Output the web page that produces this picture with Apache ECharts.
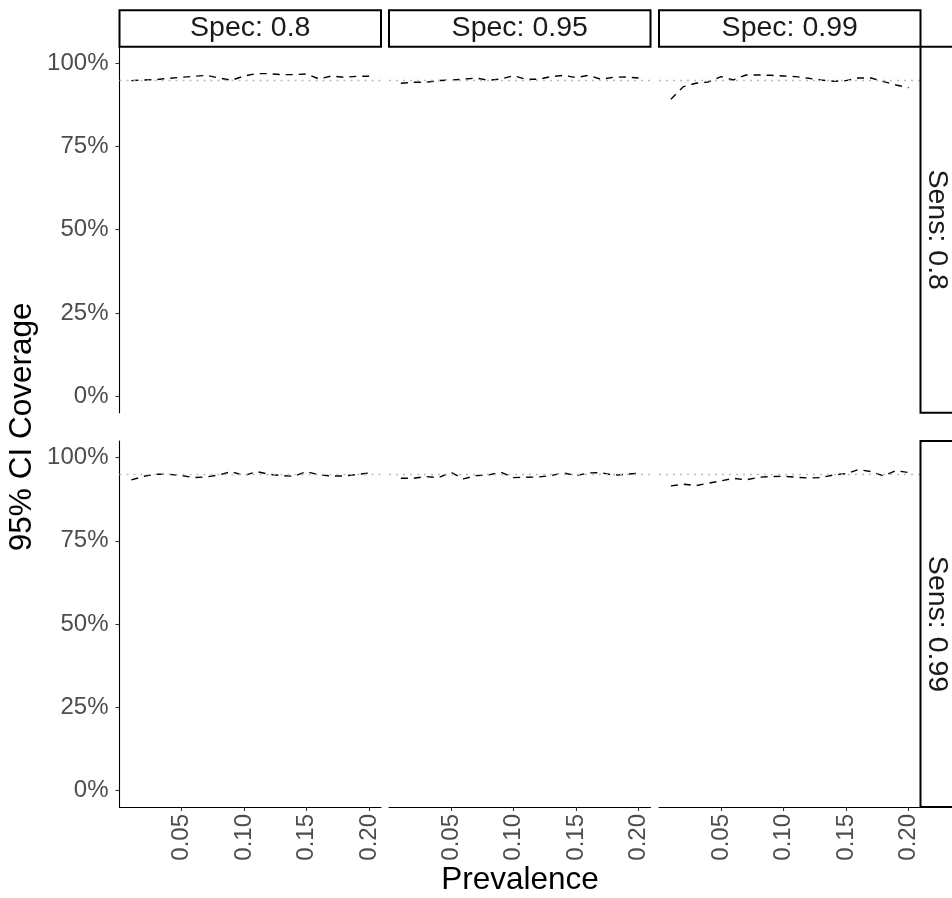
<!DOCTYPE html>
<html>
<head>
<meta charset="utf-8">
<script src="https://cdn.jsdelivr.net/npm/echarts@6/dist/echarts.min.js"></script>
<style>
  html, body { margin: 0; padding: 0; background: #ffffff; }
  #chart { width: 952px; height: 898px; }
</style>
</head>
<body>
<div id="chart"></div>
<script>
// Simulated 95% CI coverage (%) by prevalence, faceted by sensitivity (rows) and specificity (columns)
const prevalence = [0.01, 0.02, 0.03, 0.04, 0.05, 0.06, 0.07, 0.08, 0.09, 0.10,
                    0.11, 0.12, 0.13, 0.14, 0.15, 0.16, 0.17, 0.18, 0.19, 0.20];

const specLabels = ['Spec: 0.8', 'Spec: 0.95', 'Spec: 0.99'];
const sensLabels = ['Sens: 0.8', 'Sens: 0.99'];

const coverageSens080Spec080 = [94.8, 95.0, 95.1, 95.5, 95.8, 96.1, 96.4, 95.6, 94.9, 96.2,
                                96.9, 96.9, 96.6, 96.6, 96.8, 95.3, 96.2, 95.8, 96.1, 96.1];
const coverageSens080Spec095 = [94.0, 94.3, 94.3, 94.8, 95.0, 95.2, 95.6, 94.9, 95.3, 96.3,
                                95.2, 95.2, 96.0, 96.4, 95.7, 96.4, 95.2, 95.8, 95.9, 95.6];
const coverageSens080Spec099 = [89.2, 93.0, 94.0, 94.4, 96.0, 95.0, 96.5, 96.5, 96.4, 96.2,
                                96.0, 95.5, 95.0, 94.6, 94.8, 95.6, 95.6, 94.5, 93.5, 92.7];
const coverageSens099Spec080 = [93.3, 94.4, 95.0, 95.0, 94.6, 94.0, 94.2, 94.8, 95.8, 94.6,
                                95.8, 95.0, 94.6, 94.4, 95.8, 94.8, 94.5, 94.5, 94.9, 95.4];
const coverageSens099Spec095 = [93.8, 93.8, 94.3, 94.0, 95.6, 93.6, 94.6, 94.8, 95.6, 94.0,
                                94.1, 94.2, 94.6, 95.4, 94.6, 95.4, 95.5, 94.7, 95.0, 95.3];
const coverageSens099Spec099 = [91.5, 92.0, 91.6, 92.3, 93.0, 93.8, 93.3, 94.1, 94.3, 94.4,
                                94.1, 93.9, 94.0, 94.8, 95.2, 96.4, 95.8, 94.5, 96.1, 95.5];

// nominal coverage reference level
const nominalCoverage = 95;

const xTickValues = [0.05, 0.10, 0.15, 0.20];
const yTickValues = [0, 25, 50, 75, 100];

const panelValues = [
  [coverageSens080Spec080, coverageSens080Spec095, coverageSens080Spec099],
  [coverageSens099Spec080, coverageSens099Spec095, coverageSens099Spec099]
];

// ---- layout ----
const FONT = '"Liberation Sans", Arial, Helvetica, sans-serif';
const colLeft = [119.5, 389, 659];
const panelW = 261.5;
const rowTop = [46.7, 441];
const panelH = 366;
const stripSize = 36.5;
const tickFont = 24;
const stripFont = 28.5;
const titleFont = 31.5;

const chart = echarts.init(document.getElementById('chart'), null, { renderer: 'canvas' });

const grids = [], xAxes = [], yAxes = [], series = [], graphics = [];

for (let r = 0; r < 2; r++) {
  for (let c = 0; c < 3; c++) {
    const idx = r * 3 + c;
    const bottomRow = r === 1;
    const firstCol = c === 0;
    grids.push({ left: colLeft[c], top: rowTop[r], width: panelW, height: panelH });
    xAxes.push({
      gridIndex: idx, type: 'value', min: 0.0005, max: 0.2095,
      axisLine: { show: bottomRow, onZero: false, lineStyle: { color: '#000', width: 1.1 } },
      axisTick: { show: bottomRow, customValues: xTickValues, length: 4, lineStyle: { color: '#333', width: 1.1 } },
      axisLabel: {
        show: bottomRow, customValues: xTickValues, rotate: 90, margin: 7,
        fontSize: tickFont, color: '#4D4D4D', fontFamily: FONT,
        formatter: v => v.toFixed(2)
      },
      splitLine: { show: false }
    });
    yAxes.push({
      gridIndex: idx, type: 'value', min: -5, max: 105,
      axisLine: { show: firstCol, onZero: false, lineStyle: { color: '#000', width: 1.1 } },
      axisTick: { show: firstCol, customValues: yTickValues, length: 4, lineStyle: { color: '#333', width: 1.1 } },
      axisLabel: {
        show: firstCol, customValues: yTickValues, margin: 11,
        fontSize: tickFont, color: '#4D4D4D', fontFamily: FONT,
        formatter: v => v + '%'
      },
      splitLine: { show: false }
    });
    const vals = panelValues[r][c];
    series.push({
      type: 'line', xAxisIndex: idx, yAxisIndex: idx,
      data: prevalence.map((p, i) => [p, vals[i]]),
      symbol: 'none', silent: true,
      lineStyle: { color: '#000', width: 1.4, type: [7, 6] },
      markLine: {
        silent: true, symbol: ['none', 'none'], label: { show: false },
        lineStyle: { color: '#BBBBBB', width: 1.3, type: [2, 5] },
        data: [{ yAxis: nominalCoverage }]
      },
      z: 3
    });
  }
}

// column strips (specificity)
specLabels.forEach((lab, c) => {
  graphics.push({
    type: 'rect', z: 10,
    shape: { x: colLeft[c], y: rowTop[0] - stripSize, width: panelW, height: stripSize },
    style: { fill: '#fff', stroke: '#000', lineWidth: 2 }
  });
  graphics.push({
    type: 'text', z: 11,
    x: colLeft[c] + panelW / 2, y: rowTop[0] - stripSize / 2,
    style: { text: lab, align: 'center', verticalAlign: 'middle', fontSize: stripFont, fill: '#1A1A1A', fontFamily: FONT }
  });
});

// row strips (sensitivity)
const stripX = colLeft[2] + panelW;
sensLabels.forEach((lab, r) => {
  graphics.push({
    type: 'rect', z: 10,
    shape: { x: stripX, y: rowTop[r], width: stripSize, height: panelH },
    style: { fill: '#fff', stroke: '#000', lineWidth: 2 }
  });
  graphics.push({
    type: 'text', z: 11,
    x: stripX + stripSize / 2 - 1.5, y: rowTop[r] + panelH / 2, rotation: -Math.PI / 2,
    style: { text: lab, align: 'center', verticalAlign: 'middle', fontSize: stripFont, fill: '#1A1A1A', fontFamily: FONT }
  });
});

// axis titles
graphics.push({
  type: 'text', z: 11,
  x: 22, y: (rowTop[0] + rowTop[1] + panelH) / 2, rotation: Math.PI / 2,
  style: { text: '95% CI Coverage', align: 'center', verticalAlign: 'middle', fontSize: titleFont, fill: '#000', fontFamily: FONT }
});
graphics.push({
  type: 'text', z: 11,
  x: (colLeft[0] + colLeft[2] + panelW) / 2, y: 880,
  style: { text: 'Prevalence', align: 'center', verticalAlign: 'middle', fontSize: titleFont, fill: '#000', fontFamily: FONT }
});

chart.setOption({
  animation: false,
  backgroundColor: '#ffffff',
  grid: grids,
  xAxis: xAxes,
  yAxis: yAxes,
  series: series,
  graphic: graphics
});
</script>
</body>
</html>
